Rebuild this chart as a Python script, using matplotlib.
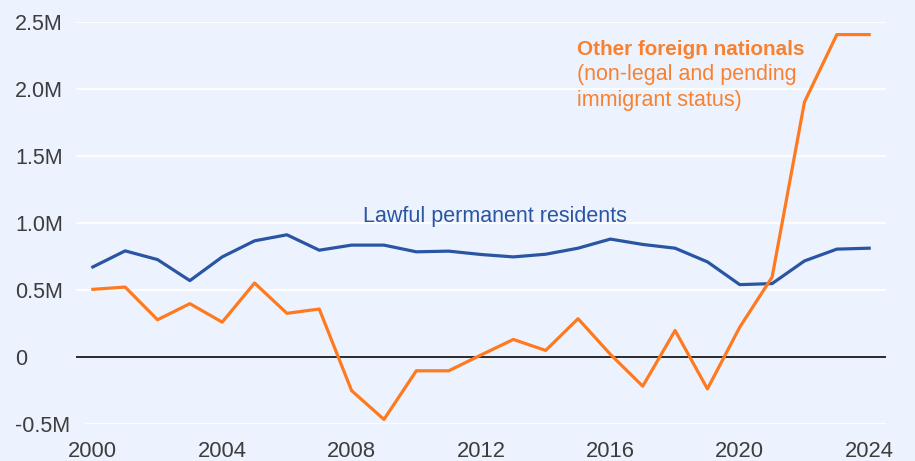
import matplotlib
matplotlib.use("Agg")
import matplotlib.pyplot as plt

years = list(range(2000, 2025))
lawful_permanent = [0.672, 0.792, 0.727, 0.570, 0.747, 0.867, 0.912, 0.797, 0.835, 0.835,
                    0.785, 0.790, 0.765, 0.747, 0.767, 0.812, 0.880, 0.840, 0.812, 0.710,
                    0.540, 0.548, 0.717, 0.805, 0.812]
other_foreign = [0.505, 0.522, 0.278, 0.398, 0.260, 0.552, 0.326, 0.358, -0.251, -0.466,
                 -0.103, -0.103, 0.015, 0.131, 0.049, 0.286, 0.020, -0.218, 0.198, -0.238,
                 0.223, 0.597, 1.903, 2.406, 2.406]
y_ticks = [-0.5, 0, 0.5, 1.0, 1.5, 2.0, 2.5]
y_tick_labels = ["-0.5M", "0", "0.5M", "1.0M", "1.5M", "2.0M", "2.5M"]
x_ticks = [2000, 2004, 2008, 2012, 2016, 2020, 2024]
x_tick_labels = ["2000", "2004", "2008", "2012", "2016", "2020", "2024"]

BG = "#edf3fe"
BLUE = "#2a55a2"
ORANGE = "#ff7a1e"
ORANGE_TXT = "#f8812f"
TICK = "#3d3d3d"

plt.rcParams['font.family'] = ['Liberation Sans', 'DejaVu Sans']

W, H = 915, 461
fig = plt.figure(figsize=(W / 100, H / 100), dpi=100, facecolor=BG)
ax = fig.add_axes([76 / W, (H - 424) / H, (886 - 76) / W, (424 - 22) / H])
ax.set_facecolor(BG)
ax.set_xlim(1999.48, 2024.52)
ax.set_ylim(-0.5, 2.5)
for s in ax.spines.values():
    s.set_visible(False)

# gridlines
for v in y_ticks:
    if v == 0:
        continue
    xmin = (86 - 76) / (886 - 76) if v == -0.5 else 0
    ax.axhline(v, xmin=xmin, xmax=1, color="white", lw=1.3, zorder=1)
ax.axhline(0, color="#1a1a1a", lw=1.3, zorder=2)

ax.plot(years, lawful_permanent, color=BLUE, lw=2.3, zorder=3, clip_on=False)
ax.plot(years, other_foreign, color=ORANGE, lw=2.3, zorder=3, clip_on=False)

ax.set_yticks(y_ticks)
ax.set_yticklabels(y_tick_labels)
ax.tick_params(axis='y', length=0, pad=(76 - 15) * 0.72, labelsize=15.5, labelcolor=TICK)
for lab in ax.get_yticklabels():
    lab.set_horizontalalignment('left')
ax.set_xticks(x_ticks)
ax.set_xticklabels(x_tick_labels)
ax.tick_params(axis='x', length=0, pad=12, labelsize=15.8, labelcolor=TICK)

ax.text(2008.34, 1.005, "Lawful permanent residents", color=BLUE, fontsize=15.5,
        ha='left', va='baseline', zorder=4)
ax.text(2014.97, 2.257, "Other foreign nationals", color=ORANGE_TXT, fontsize=14.9,
        fontweight='bold', ha='left', va='baseline', zorder=4)
ax.text(2014.97, 2.07, "(non-legal and pending", color=ORANGE_TXT, fontsize=15.5,
        ha='left', va='baseline', zorder=4)
ax.text(2014.97, 1.875, "immigrant status)", color=ORANGE_TXT, fontsize=15.5,
        ha='left', va='baseline', zorder=4)

fig.savefig("out.png", dpi=100, facecolor=BG)
